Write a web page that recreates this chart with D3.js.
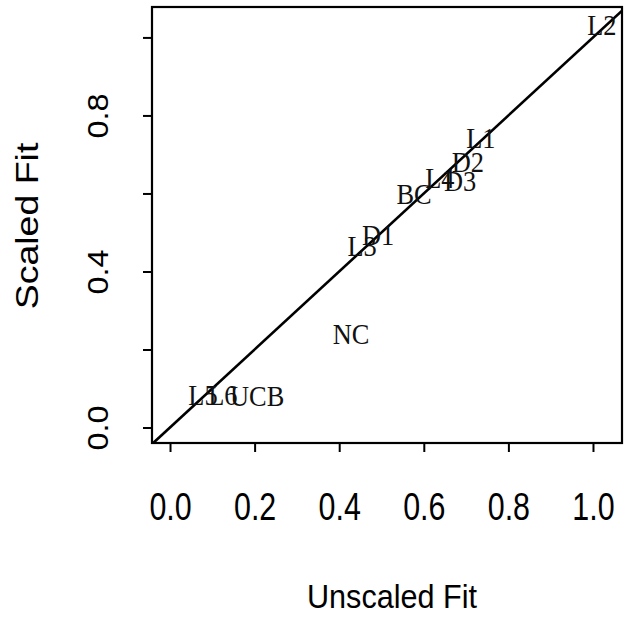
<!DOCTYPE html>
<html>
<head>
<meta charset="utf-8">
<script src="https://cdn.jsdelivr.net/npm/d3@7"></script>
<style>
  body { margin: 0; background: #fff; }
  svg { display: block; }
</style>
</head>
<body>
<div id="chart"></div>
<script>
// Point labels and their (unscaled, scaled) fits
const labels = ["L2", "L1", "D2", "L4", "D3", "BC", "D1", "L3", "NC", "L5", "L6", "UCB"];
const unscaled = [1.021, 0.735, 0.704, 0.638, 0.686, 0.577, 0.492, 0.454, 0.428, 0.078, 0.125, 0.206];
const scaled = [1.032, 0.742, 0.681, 0.640, 0.632, 0.599, 0.494, 0.465, 0.240, 0.083, 0.083, 0.081];

const xTicks = [0, 0.2, 0.4, 0.6, 0.8, 1.0];
const yTicks = [0, 0.2, 0.4, 0.6, 0.8, 1.0];
const yLabelled = [0, 0.4, 0.8];

const width = 625;
const height = 618;
const margin = { top: 7, right: 3, bottom: 175, left: 152 };

const xScale = d3.scaleLinear()
    .domain([-0.0426, 1.0686])
    .range([margin.left, width - margin.right]);

const yScale = d3.scaleLinear()
    .domain([-0.0397, 1.078])
    .range([height - margin.bottom, margin.top]);

const sans = "'Liberation Sans', Arial, Helvetica, sans-serif";
const serif = "'Liberation Serif', 'Times New Roman', Times, serif";

const svg = d3.select("#chart")
    .append("svg")
    .attr("width", width)
    .attr("height", height);

// clip for the y = x line
svg.append("clipPath")
    .attr("id", "plot-clip")
    .append("rect")
    .attr("x", margin.left)
    .attr("y", margin.top)
    .attr("width", width - margin.left - margin.right)
    .attr("height", height - margin.top - margin.bottom);

// y = x reference line
const lo = -0.1, hi = 1.2;
svg.append("line")
    .attr("clip-path", "url(#plot-clip)")
    .attr("x1", xScale(lo)).attr("y1", yScale(lo))
    .attr("x2", xScale(hi)).attr("y2", yScale(hi))
    .attr("stroke", "#000")
    .attr("stroke-width", 2.6);

// point labels
svg.append("g")
    .selectAll("text")
    .data(labels)
    .enter().append("text")
    .attr("transform", (d, i) => `translate(${xScale(unscaled[i])},${yScale(scaled[i]) + 10}) scale(0.88,1)`)
    .attr("text-anchor", "middle")
    .style("font-family", serif)
    .style("font-size", "30px")
    .style("fill", "#111")
    .text(d => d);

// plot box
svg.append("rect")
    .attr("x", margin.left)
    .attr("y", margin.top)
    .attr("width", width - margin.left - margin.right)
    .attr("height", height - margin.top - margin.bottom)
    .attr("fill", "none")
    .attr("stroke", "#000")
    .attr("stroke-width", 2.2);

// x axis
const xAxis = svg.append("g")
    .attr("transform", `translate(0, ${height - margin.bottom})`)
    .call(d3.axisBottom(xScale).tickValues(xTicks).tickSize(9).tickFormat(d3.format(".1f")));
xAxis.select(".domain").remove();
xAxis.selectAll("line").attr("stroke", "#000").attr("stroke-width", 2);
xAxis.selectAll("text")
    .attr("y", null)
    .attr("dy", null)
    .attr("transform", "translate(0, 77) scale(0.8, 1)")
    .style("font-family", sans)
    .style("font-size", "38px")
    .style("fill", "#000");

// y axis (only every other tick labelled)
const yAxis = svg.append("g")
    .attr("transform", `translate(${margin.left}, 0)`)
    .call(d3.axisLeft(yScale).tickValues(yTicks).tickSize(9)
        .tickFormat(d => yLabelled.includes(d) ? d3.format(".1f")(d) : ""));
yAxis.select(".domain").remove();
yAxis.selectAll("line").attr("stroke", "#000").attr("stroke-width", 2);
yAxis.selectAll("text")
    .attr("x", null)
    .attr("dy", null)
    .attr("text-anchor", "middle")
    .attr("transform", "translate(-44, 0) rotate(-90) scale(1.08, 1)")
    .style("font-family", sans)
    .style("font-size", "30px")
    .style("fill", "#000");

// axis titles
svg.append("text")
    .attr("transform", `translate(${(margin.left + width - margin.right) / 2 + 5}, 608) scale(0.9, 1)`)
    .attr("text-anchor", "middle")
    .style("font-family", sans)
    .style("font-size", "34px")
    .text("Unscaled Fit");

svg.append("text")
    .attr("transform", `translate(38, ${(margin.top + height - margin.bottom) / 2 + 1}) rotate(-90) scale(1.21, 1)`)
    .attr("text-anchor", "middle")
    .style("font-family", sans)
    .style("font-size", "31px")
    .text("Scaled Fit");
</script>
</body>
</html>
